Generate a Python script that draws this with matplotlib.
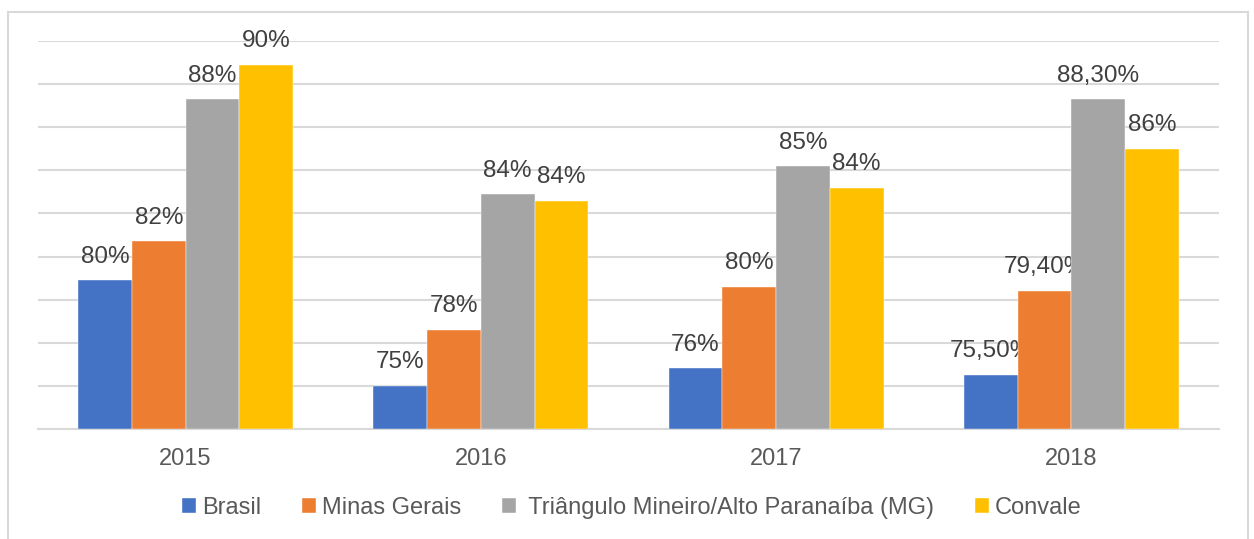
import numpy as np
import matplotlib.pyplot as plt
from matplotlib.patches import Rectangle

plt.rcParams['font.family'] = ['Liberation Sans', 'DejaVu Sans']

years = ['2015', '2016', '2017', '2018']
series = ['Brasil', 'Minas Gerais', ' Triângulo Mineiro/Alto Paranaíba (MG)', 'Convale']
brasil = [79.9, 75.0, 75.8, 75.5]
minas = [81.7, 77.6, 79.6, 79.4]
triangulo = [88.3, 83.9, 85.2, 88.3]
convale = [89.9, 83.6, 84.2, 86.0]
labels = [
    ['80%', '75%', '76%', '75,50%'],
    ['82%', '78%', '80%', '79,40%'],
    ['88%', '84%', '85%', '88,30%'],
    ['90%', '84%', '84%', '86%'],
]
colors = ['#4472c4', '#ed7d31', '#a5a5a5', '#ffc000']

fig = plt.figure(figsize=(12.54, 5.39), dpi=100)
ax = fig.add_axes([38/1254, 1 - 428.7/539, (1219 - 38)/1254, (428.7 - 41.3)/539])

# chart frame
fig.patches.append(Rectangle((8/1254, -0.05), (1248 - 8)/1254, 1.05 - 12/539,
                             transform=fig.transFigure, fill=False,
                             edgecolor='#d9d9d9', linewidth=1.5))

x = np.arange(len(years))
w = 0.182
data = [brasil, minas, triangulo, convale]
for i, vals in enumerate(data):
    base = 73
    bars = ax.bar(x + (i - 1.5) * w, np.array(vals) - base, w, bottom=base,
                  color=colors[i], label=series[i], zorder=3,
                  edgecolor='white', linewidth=0.3)
    ax.bar_label(bars, labels=labels[i], padding=9, fontsize=17.5, color='#404040')

ax.set_xlim(-0.5, 3.5)
ax.set_ylim(73, 91)
ax.set_yticks(np.arange(73, 92, 2))
ax.yaxis.grid(True, color='#d9d9d9', linewidth=1.5, zorder=0)
ax.set_yticklabels([])
ax.tick_params(axis='y', length=0)
ax.set_xticks(x)
ax.set_xticklabels(years, fontsize=17, color='#595959')
ax.tick_params(axis='x', length=0, pad=14)
for s in ['top', 'right', 'left']:
    ax.spines[s].set_visible(False)
ax.spines['bottom'].set_color('#d9d9d9')
ax.spines['bottom'].set_linewidth(1.5)

leg = fig.legend(loc='center', bbox_to_anchor=(0.504, 1 - 508/539), ncol=4,
                 frameon=False, fontsize=17, handlelength=0.57, handleheight=0.57,
                 handletextpad=0.26, columnspacing=1.75)
for t in leg.get_texts():
    t.set_color('#595959')

fig.savefig('out.png', dpi=100)
